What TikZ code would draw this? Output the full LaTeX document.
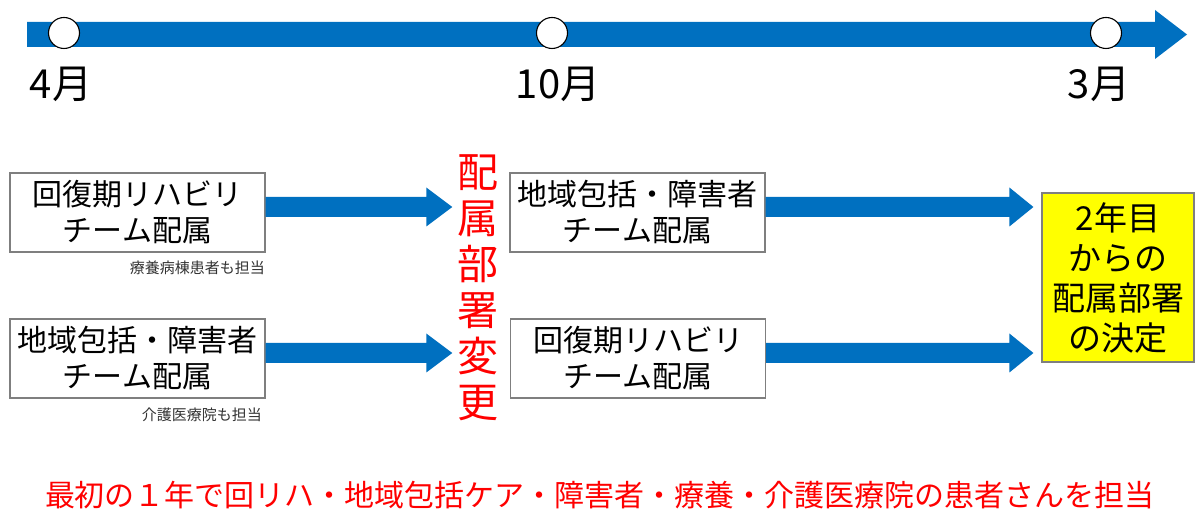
\documentclass[tikz,border=0pt]{standalone}
\usepackage{fontspec}
\setmainfont{Noto Sans CJK JP}
\usetikzlibrary{calc}
\definecolor{arrowblue}{HTML}{0070C0}
\definecolor{boxgray}{HTML}{7F7F7F}
\definecolor{txtred}{HTML}{FF0000}
\definecolor{boxyellow}{HTML}{FFFF00}
\tikzset{
  barhw/.store in=\barhw, headhw/.store in=\headhw, headlen/.store in=\headlen,
  barhw=10pt, headhw=19.5pt, headlen=26pt,
  blockarrow/.style={fill=arrowblue, draw=none,
    to path={let \p1=(\tikztostart), \p2=(\tikztotarget) in
      (\x1,\y1+\barhw) -- (\x2-\headlen,\y1+\barhw) -- (\x2-\headlen,\y1+\headhw)
      -- (\x2,\y1) -- (\x2-\headlen,\y1-\headhw) -- (\x2-\headlen,\y1-\barhw)
      -- (\x1,\y1-\barhw) -- cycle}},
  teambox/.style={draw=boxgray, line width=1.2pt, fill=white, minimum width=255pt,
    minimum height=79pt, inner sep=0pt, align=center,
    font=\fontsize{30}{36}\selectfont},
  goalbox/.style={draw=boxgray, line width=1.2pt, fill=boxyellow, minimum width=152pt,
    minimum height=169pt, inner sep=0pt, align=center,
    font=\fontsize{33}{40}\selectfont},
  dot/.style={circle, draw=black, line width=1.1pt, fill=white, minimum size=31pt, inner sep=0pt},
  month/.style={font=\fontsize{40}{44}\selectfont, inner sep=0pt},
  note/.style={font=\fontsize{15}{18}\selectfont, inner sep=0pt, anchor=east, text=black!80},
  redtext/.style={text=txtred, inner sep=0pt}
}
\begin{document}
\begin{tikzpicture}[x=1pt,y=1pt]
\useasboundingbox[fill=white] (0,0) rectangle (1200,530);

% timeline
\coordinate (tlA) at (27,495.5);
\coordinate (tlB) at (1187,495.5);
\fill[blockarrow, barhw=12.5pt, headhw=24.5pt, headlen=32pt] (tlA) to (tlB);
\node[dot] (d1) at (64,497) {};
\node[dot] (d2) at (552,497) {};
\node[dot] (d3) at (1106,497) {};
\node[month] (m1) at (61,446) {4月};
\node[month] (m2) at (558,446) {10月};
\node[month] (m3) at (1099,446) {3月};

% boxes
\node[teambox] (lt) at (137.5,317.5) {回復期リハビリ\\チーム配属};
\node[teambox] (lb) at (137.5,171.5) {地域包括・障害者\\チーム配属};
\node[teambox] (rt) at (637.5,317.5) {地域包括・障害者\\チーム配属};
\node[teambox] (rb) at (638,171.5) {回復期リハビリ\\チーム配属};
\node[goalbox] (goal) at (1118,252.5) {2年目\\からの\\配属部署\\の決定};

\node[note] (n1) at (265,262) {療養病棟患者も担当};
\node[note] (n2) at (262,115) {介護医療院も担当};

\node[redtext, align=center, font=\fontsize{41}{46}\selectfont] (chg) at (478,242.5) {配\\属\\部\\署\\変\\更};

% arrows
\fill[blockarrow] ([yshift=5.5pt]lt.east) to ([xshift=-5pt]chg.west);
\fill[blockarrow] ([yshift=5.5pt]lb.east) to ([xshift=-5pt]chg.west);
\fill[blockarrow, headlen=24pt] ([yshift=5.5pt]rt.east) to ([xshift=-8pt]goal.west);
\fill[blockarrow, headlen=24pt] ([yshift=5.5pt]rb.east) to ([xshift=-8pt]goal.west);

\node[redtext, font=\fontsize{30}{36}\selectfont] (summary) at (600,35) {最初の１年で回リハ・地域包括ケア・障害者・療養・介護医療院の患者さんを担当};
\end{tikzpicture}
\end{document}
